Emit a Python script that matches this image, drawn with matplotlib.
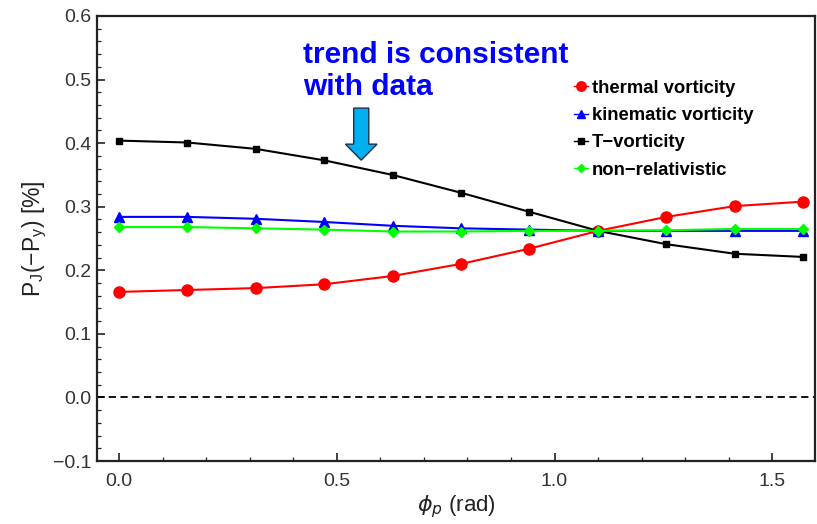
import matplotlib
matplotlib.use("Agg")
import matplotlib.pyplot as plt
from matplotlib.patches import FancyArrow
from matplotlib.ticker import MultipleLocator, FormatStrFormatter, FuncFormatter

plt.rcParams['font.family'] = ['Liberation Sans', 'DejaVu Sans']
plt.rcParams['mathtext.fontset'] = 'dejavusans'

phi = [0.0, 0.157, 0.314, 0.471, 0.628, 0.785, 0.942, 1.100, 1.257, 1.414, 1.571]
thermal = [0.166, 0.169, 0.172, 0.178, 0.191, 0.210, 0.234, 0.262, 0.284, 0.301, 0.308]
kinematic = [0.284, 0.284, 0.281, 0.276, 0.270, 0.266, 0.264, 0.262, 0.262, 0.262, 0.262]
t_vort = [0.404, 0.401, 0.391, 0.373, 0.350, 0.322, 0.292, 0.262, 0.241, 0.226, 0.221]
nonrel = [0.268, 0.268, 0.266, 0.264, 0.261, 0.261, 0.262, 0.262, 0.263, 0.265, 0.265]

labels = ["thermal vorticity", "kinematic vorticity", "T\u2212vorticity", "non\u2212relativistic"]

fig = plt.figure(figsize=(8.17, 5.24), dpi=100)
ax = fig.add_axes([97 / 817, 1 - 461 / 524, (815 - 97) / 817, (461 - 16) / 524])

ax.plot(phi, thermal, color='#ff0000', lw=1.5, marker='o', ms=8, label=labels[0])
ax.plot(phi, kinematic, color='#0000ff', lw=1.5, marker='^', ms=6.5, label=labels[1])
ax.plot(phi, t_vort, color='#000000', lw=1.5, marker='s', ms=5, label=labels[2])
ax.plot(phi, nonrel, color='#00ff00', lw=1.5, marker='D', ms=5, label=labels[3])
ax.axhline(0.0, color='black', lw=1.3, ls=(0, (4, 2.5)))

ax.set_xlim(-0.0505, 1.598)
ax.set_ylim(-0.1, 0.6)
ax.xaxis.set_major_locator(MultipleLocator(0.5))
ax.xaxis.set_minor_locator(MultipleLocator(0.1))
ax.yaxis.set_major_locator(MultipleLocator(0.1))
ax.yaxis.set_minor_locator(MultipleLocator(0.02))
ax.xaxis.set_major_formatter(FormatStrFormatter('%.1f'))
ax.yaxis.set_major_formatter(FuncFormatter(
    lambda v, p: ('%.1f' % v).replace('-', '\u2212')))

ax.tick_params(which='both', direction='in', top=False, right=False,
               colors='#222222', labelsize=14, labelcolor='#333333')
ax.tick_params(which='major', length=6, width=1.2)
ax.tick_params(axis='y', which='major', pad=4)
ax.tick_params(axis='x', which='major', pad=9)
ax.tick_params(which='minor', length=3, width=0.9)
for s in ax.spines.values():
    s.set_linewidth(1.6)
    s.set_color('#222222')

ax.set_ylabel('P$_\\mathregular{J}$(\u2212P$_\\mathregular{y}$) [%]',
              fontsize=16.5, color='#222222', labelpad=3)
ax.set_xlabel(r'$\phi_p$ (rad)', fontsize=16, color='#222222', labelpad=2)

leg = ax.legend(loc='upper left', bbox_to_anchor=(0.665, 0.857), frameon=False,
                prop={'weight': 'bold', 'size': 13.3}, handlelength=0.75,
                handletextpad=0.2, labelspacing=0.56, markerscale=0.85,
                borderaxespad=0, borderpad=0)
for h in leg.get_lines():
    h.set_linewidth(1.0)

ax.text(0.287, 0.944, 'trend is consistent\nwith data', transform=ax.transAxes,
        color='#0000ff', fontsize=21.5, fontweight='bold', va='top', ha='left',
        linespacing=1.2)

arrow = FancyArrow(0.368, 0.793, 0.0, -0.117, width=0.021, head_width=0.044,
                   head_length=0.036, length_includes_head=True,
                   transform=ax.transAxes, facecolor='#00b0f0',
                   edgecolor='#1a3050', lw=1.0, zorder=5)
ax.add_patch(arrow)

fig.savefig('out.png', dpi=100)
